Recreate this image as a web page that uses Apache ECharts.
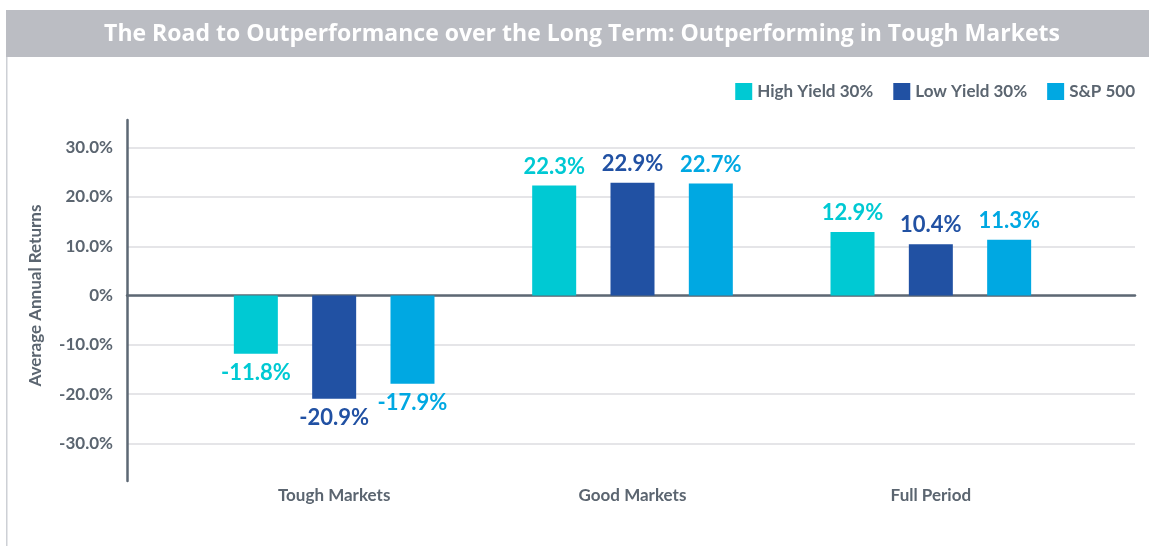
<!DOCTYPE html>
<html>
<head>
<meta charset="utf-8">
<script src="https://cdn.jsdelivr.net/npm/echarts@6/dist/echarts.min.js"></script>
<style>
  html, body { margin: 0; padding: 0; background: #fff; }
  #chart { width: 1149px; height: 546px; }
</style>
</head>
<body>
<div id="chart"></div>
<script>
// 数据
var categories = ["Tough Markets", "Good Markets", "Full Period"];
var seriesNames = ["High Yield 30%", "Low Yield 30%", "S&P 500"];
var highYield = [-11.8, 22.3, 12.9];
var lowYield = [-20.9, 22.9, 10.4];
var sp500 = [-17.9, 22.7, 11.3];
var colors = ["#00c9d3", "#2151a3", "#00a8e2"];

var axisGray = "#5d6874";
var textGray = "#5b6570";
var font = "Lato";

function makeSeries(name, values, color) {
    return {
        name: name,
        type: "bar",
        xAxisIndex: 1,
        yAxisIndex: 1,
        barWidth: 44,
        barGap: "78%",
        itemStyle: { color: color },
        data: values.map(function (v) {
            return {
                value: v,
                label: { position: v < 0 ? "bottom" : "top" }
            };
        }),
        label: {
            show: true,
            distance: 8,
            color: color,
            fontFamily: font,
            fontWeight: "bold",
            fontSize: 22,
            formatter: function (p) { return p.value.toFixed(1) + "%"; }
        }
    };
}

// 柱子所在坐标系的范围（轴线长度）
var yMin = -37.6, yMax = 35.6;
var plotTop = 120, plotBottom = 65;
var plotH = 546 - plotTop - plotBottom;
var zeroY = plotTop + yMax / (yMax - yMin) * plotH;
var pxPerUnit = plotH / (yMax - yMin);
// 刻度坐标系 -40 ~ 40，与上面同比例
var tickTop = zeroY - 40 * pxPerUnit;
var tickBottom = 546 - (zeroY + 40 * pxPerUnit);

var chart = echarts.init(document.getElementById("chart"));
var option = {
    animation: false,
    textStyle: { fontFamily: font },
    graphic: [
        { type: "rect", left: 6, top: 10, shape: { width: 1143, height: 47 }, style: { fill: "#bbbdc3" } },
        { type: "rect", left: 6, top: 57, shape: { width: 1.5, height: 489 }, style: { fill: "#cdd0d5" } },
        {
            type: "text", x: 582, y: 34,
            style: { text: "The Road to Outperformance over the Long Term: Outperforming in Tough Markets",
                     fill: "#fff", font: "bold 23px 'Open Sans'", align: "center", verticalAlign: "middle" }
        }
    ],
    legend: {
        right: 9,
        top: 78,
        itemWidth: 17,
        itemHeight: 17,
        itemGap: 20,
        icon: "rect",
        data: seriesNames,
        textStyle: { color: textGray, fontWeight: "bold", fontSize: 17, fontFamily: font }
    },
    grid: [
        { left: 127, right: 14, top: tickTop, bottom: tickBottom },
        { left: 185, right: 69, top: plotTop, bottom: plotBottom }
    ],
    xAxis: [
        {
            gridIndex: 0,
            type: "value",
            min: 0, max: 1,
            axisLabel: { show: false },
            axisTick: { show: false },
            splitLine: { show: false },
            axisLine: { show: true, onZero: true, lineStyle: { color: axisGray, width: 2.5 } }
        },
        {
            gridIndex: 1,
            type: "category",
            data: categories,
            axisLine: { show: false },
            axisTick: { show: false },
            axisLabel: { color: textGray, fontWeight: "bold", fontSize: 17, margin: 6, fontFamily: font }
        }
    ],
    yAxis: [
        {
            gridIndex: 0,
            type: "value",
            min: -40, max: 40,
            interval: 10,
            name: "Average Annual Returns",
            nameLocation: "middle",
            nameGap: 83,
            nameTextStyle: { color: textGray, fontWeight: "bold", fontSize: 17, fontFamily: font },
            axisLine: { show: false },
            axisTick: { show: false },
            axisLabel: {
                showMinLabel: false, showMaxLabel: false,
                margin: 14,
                color: textGray, fontWeight: "bold", fontSize: 17, fontFamily: font,
                formatter: function (v) { return v === 0 ? "0%" : v.toFixed(1) + "%"; }
            },
            splitLine: { show: true, showMinLine: false, showMaxLine: false, lineStyle: { color: "#dcdde0", width: 1.5 } }
        },
        {
            gridIndex: 1,
            type: "value",
            min: yMin, max: yMax,
            offset: 58,
            axisLine: { show: true, lineStyle: { color: axisGray, width: 2.5 } },
            axisTick: { show: false },
            axisLabel: { show: false },
            splitLine: { show: false }
        }
    ],
    series: [
        makeSeries(seriesNames[0], highYield, colors[0]),
        makeSeries(seriesNames[1], lowYield, colors[1]),
        makeSeries(seriesNames[2], sp500, colors[2])
    ]
};
chart.setOption(option);
</script>
</body>
</html>
